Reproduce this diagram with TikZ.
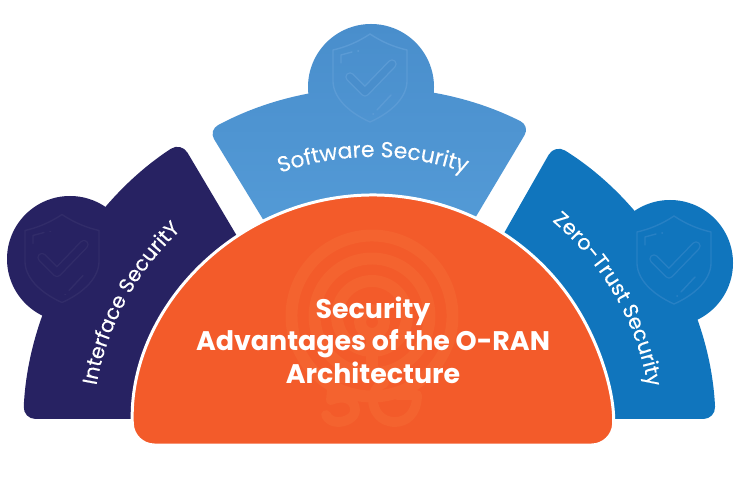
\documentclass[tikz,border=0pt]{standalone}
\usepackage{fontspec}
\setmainfont{Poppins}
\newfontfamily\bandfont[FakeBold=0.25]{Poppins}
\usetikzlibrary{decorations.text}
\definecolor{navyband}{HTML}{272262}
\definecolor{skytop}{HTML}{498ECC}
\definecolor{skybottom}{HTML}{549BD7}
\definecolor{oceanband}{HTML}{1075BD}
\definecolor{coreorange}{HTML}{F35B2A}
\definecolor{navymark}{HTML}{312C69}
\definecolor{skymark}{HTML}{5B9BD5}
\definecolor{oceanmark}{HTML}{2780C4}
\definecolor{coremark}{HTML}{F4632F}
\tikzset{
    bandlabel/.style 2 args={postaction={decorate,decoration={text along path,text align=center,
        text={|\bandfont\fontsize{#1}{14}\selectfont\color{white}|#2}}}},
    markline/.style={coremark,line width=6.8pt,line cap=round,line join=round},
    pics/shieldmark/.style args={#1/#2}{code={
        \draw[#1,line width=0.8pt,line join=round] (0,44) .. controls (-12,36) and (-24,31) .. (-37,28)
            -- (-37,-4) .. controls (-36,-22) and (-18,-36) .. (0,-44)
            .. controls (18,-36) and (36,-22) .. (37,-4) -- (37,28)
            .. controls (24,31) and (12,36) .. (0,44) -- cycle;
        \draw[#1,line width=0.8pt,line cap=round,line join=round] (-29,15) -- (-29,23) -- (-18,26);
        \draw[#1,line width=1pt,line cap=round] (-12,27) -- (-11.5,27);
        \draw[#1,line width=0.8pt,line cap=round] (7,-32) -- (21,-17);
        \draw[#1,line width=1pt,line cap=round] (3,-36) -- (3.5,-36);
        \draw[#1,line width=5.4pt,line cap=round,line join=round] (-20,1) -- (-5,-14) -- (22,14);
        \draw[#2,line width=3.8pt,line cap=round,line join=round] (-20,1) -- (-5,-14) -- (22,14);
    }}
}
\begin{document}
\begin{tikzpicture}[x=0.02cm,y=0.02cm]
    \useasboundingbox (0,0) rectangle (750,500);
    \coordinate (C) at (373,65);
    % left band
    \fill[navyband] (70,241) circle (63);
    \fill[navyband,rounded corners=7] (250,81) -- (23.2,81) arc[start angle=177.4,end angle=123.2,radius=350] -- (250,242) -- cycle;
    \pic at (62,241.5) {shieldmark={navymark/navyband}};
    \path[bandlabel={11.7}{Interface SecuritY}] ([shift={(178:281)}]C) arc[start angle=178,end angle=125,radius=281];
    % top band
    \shade[top color=skytop,bottom color=skybottom,rounded corners=6] (371,413) circle (63)
        (530,374) arc[start angle=63.2,end angle=118.3,radius=347.5] -- (275,261) -- (465,265) -- cycle;
    \pic at (370,422) {shieldmark={skymark/skytop}};
    \path[bandlabel={12.4}{Software Security}] ([shift={(117:278)}]C) arc[start angle=117,end angle=63,radius=278];
    % right band
    \fill[oceanband] (670,237) circle (63);
    \fill[oceanband,rounded corners=7] (480,81) -- (715.6,81) arc[start angle=2.67,end angle=58,radius=343] -- (495,251) -- cycle;
    \pic at (674,240) {shieldmark={oceanmark/oceanband}};
    \path[bandlabel={11.8}{Zero-Trust Security}] ([shift={(58:279)}]C) arc[start angle=58,end angle=2,radius=279];
    % centre half disc
    \draw[white,line width=1.7pt,fill=coreorange,rounded corners=12] (373,55) -- (133.2,55) arc[start angle=182.4,end angle=-2.4,radius=240] -- cycle;
    % faint 5G mark
    \foreach \ringsize in {80.5,57.5,35}
        \draw[markline] ([shift={(-125:\ringsize)}]372,184) arc[start angle=-125,end angle=125+110,radius=\ringsize];
    \draw[markline] (372,178) circle (12);
    \draw[markline] (372,166) -- (372,132);
    \draw[markline,line width=5.6pt] (355,122) -- (333,122) -- (331,100) .. controls (345,106) and (355,100) .. (355,90) .. controls (355,82) and (345,78) .. (338,78) .. controls (332,78) and (328,81) .. (326,85);
    \draw[markline,line width=5.6pt] (397,105) -- (417,105) .. controls (417,85) and (405,78) .. (395,78) .. controls (380,78) and (373,90) .. (373,100) .. controls (373,108) and (377,114) .. (384,117);
    \node[white,align=center,font=\bfseries\fontsize{15.3}{18.5}\selectfont] (title) at (373,160) {Security\\Advantages of the O-RAN\\Architecture};
\end{tikzpicture}
\end{document}
